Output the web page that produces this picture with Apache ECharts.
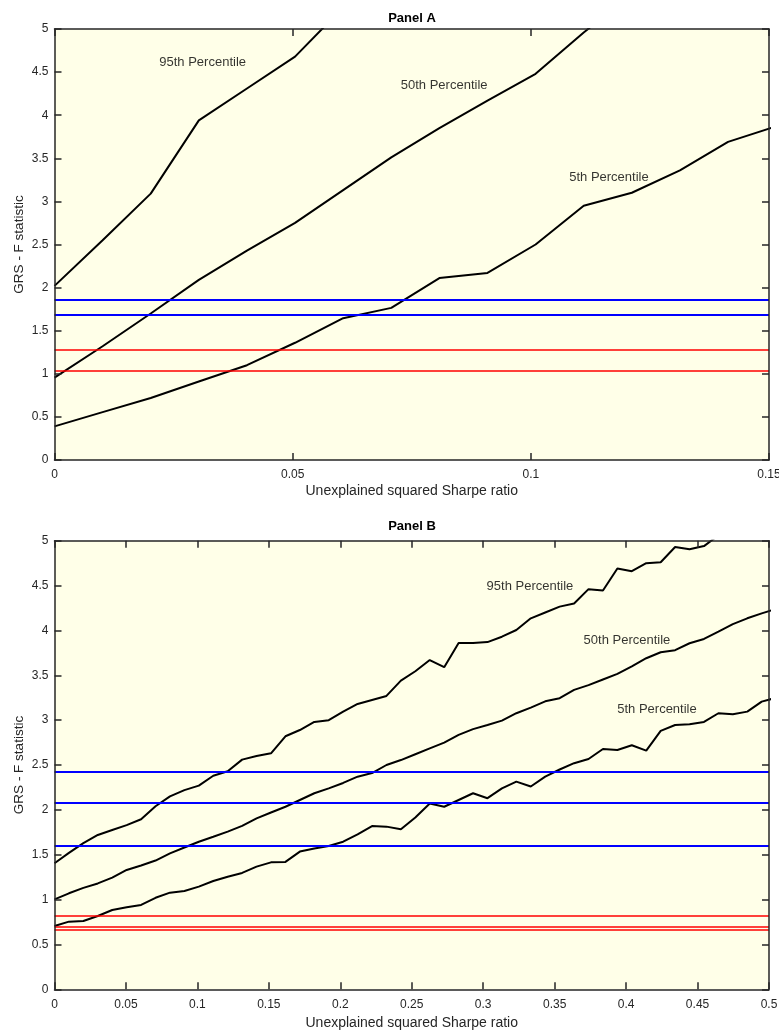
<!DOCTYPE html>
<html>
<head>
<meta charset="utf-8">
<script src="https://cdn.jsdelivr.net/npm/echarts@6/dist/echarts.min.js"></script>
<style>
html,body{margin:0;padding:0;background:#fff;}
#c{width:779px;height:1031px;}
</style>
</head>
<body>
<div id="c"></div>
<script>
// ---------- data ----------
const xGrid = [0, 0.0101, 0.0202, 0.0303, 0.0404, 0.0505, 0.0606, 0.0707, 0.0808, 0.0909,
  0.101, 0.1111, 0.1212, 0.1313, 0.1414, 0.1515, 0.1616, 0.1717, 0.1818, 0.1919,
  0.202, 0.2121, 0.2222, 0.2323, 0.2424, 0.2525, 0.2626, 0.2727, 0.2828, 0.2929,
  0.303, 0.3131, 0.3232, 0.3333, 0.3434, 0.3535, 0.3636, 0.3737, 0.3838, 0.3939,
  0.404, 0.4141, 0.4242, 0.4343, 0.4444, 0.4545, 0.4646, 0.4747, 0.4848, 0.4949, 0.5051];

// Panel A
const a95 = [2.02, 2.55, 3.09, 3.94, 4.31, 4.68, 5.25];
const a50 = [0.955, 1.32, 1.70, 2.09, 2.43, 2.75, 3.13, 3.51, 3.85, 4.17, 4.48, 4.96, 5.4];
const a5  = [0.39, 0.555, 0.72, 0.91, 1.10, 1.36, 1.645, 1.765, 2.11, 2.17, 2.50, 2.95, 3.10, 3.36, 3.69, 3.87];
const aBlue = [1.856, 1.68];
const aRed  = [1.276, 1.044];

// Panel B
const b95 = [1.405, 1.52, 1.63, 1.72, 1.776, 1.83, 1.895, 2.04, 2.15, 2.22,
  2.27, 2.38, 2.43, 2.56, 2.60, 2.63, 2.82, 2.89, 2.98, 3.00,
  3.095, 3.18, 3.225, 3.27, 3.44, 3.545, 3.67, 3.59, 3.86, 3.86,
  3.87, 3.93, 4.005, 4.135, 4.20, 4.265, 4.30, 4.46, 4.445, 4.69,
  4.66, 4.75, 4.76, 4.93, 4.905, 4.94, 5.06];
const b50 = [1.003, 1.07, 1.13, 1.18, 1.245, 1.33, 1.38, 1.435, 1.515, 1.58,
  1.645, 1.70, 1.757, 1.822, 1.905, 1.97, 2.035, 2.11, 2.185, 2.24,
  2.30, 2.37, 2.41, 2.50, 2.555, 2.62, 2.685, 2.75, 2.835, 2.90,
  2.945, 2.995, 3.077, 3.14, 3.21, 3.245, 3.337, 3.39, 3.453, 3.515,
  3.60, 3.69, 3.757, 3.78, 3.857, 3.905, 3.987, 4.07, 4.135, 4.19, 4.24];
const b5 = [0.705, 0.754, 0.761, 0.817, 0.884, 0.914, 0.94, 1.02, 1.077, 1.096,
  1.144, 1.207, 1.255, 1.297, 1.367, 1.415, 1.42, 1.535, 1.57, 1.597,
  1.645, 1.728, 1.82, 1.813, 1.784, 1.915, 2.07, 2.035, 2.11, 2.185,
  2.13, 2.24, 2.315, 2.26, 2.37, 2.45, 2.52, 2.567, 2.678, 2.668,
  2.72, 2.66, 2.88, 2.946, 2.954, 2.98, 3.077, 3.066, 3.095, 3.206, 3.25];
const bBlue = [2.419, 2.085, 1.598];
const bRed  = [0.817, 0.698, 0.664];

const seriesNames = ['95th Percentile', '50th Percentile', '5th Percentile'];
const panelTitles = ['Panel A', 'Panel B'];
const xName = 'Unexplained squared Sharpe ratio';
const yName = 'GRS - F statistic';
const xMaxA = 0.15, xMaxB = 0.5;
const xStep = 0.05, yMax = 5, yStep = 0.5;

// annotation anchors (data coordinates)
const labelAnchorA = [[0.0311, 4.617], [0.0818, 4.34], [0.1164, 3.275]];
const labelAnchorB = [[0.3327, 4.485], [0.4006, 3.894], [0.4216, 3.125]];

// ---------- chart ----------
const FONT = '"Liberation Sans", Arial, Helvetica, sans-serif';
const AX = '#262626';
const pairs = (vals) => vals.map((v, i) => [xGrid[i], v]);

function xAxisDef(gi, max, pos, gap) {
  const bottom = pos === 'bottom';
  return {
    type: 'value', gridIndex: gi, position: pos, min: 0, max: max, interval: xStep, z: 5,
    name: bottom ? xName : '', nameLocation: 'middle', nameGap: gap,
    nameTextStyle: {color: AX, fontSize: 14, fontFamily: FONT},
    axisLine: {show: true, onZero: false, lineStyle: {color: AX, width: 1.5}},
    axisTick: {show: true, inside: true, length: 7, lineStyle: {color: AX, width: 1.5}},
    axisLabel: {show: bottom, color: AX, fontSize: 12, fontFamily: FONT, margin: 9},
    splitLine: {show: false}
  };
}
function yAxisDef(gi, pos) {
  const left = pos === 'left';
  return {
    type: 'value', gridIndex: gi, position: pos, min: 0, max: yMax, interval: yStep, z: 5,
    name: left ? yName : '', nameLocation: 'middle', nameGap: 28, nameMoveOverlap: false,
    nameTextStyle: {color: AX, fontSize: 13.5, fontFamily: FONT},
    axisLine: {show: true, onZero: false, lineStyle: {color: AX, width: 1.5}},
    axisTick: {show: true, inside: true, length: 7, lineStyle: {color: AX, width: 1.5}},
    axisLabel: {show: left, color: AX, fontSize: 12, fontFamily: FONT, margin: 6},
    splitLine: {show: false}
  };
}
function blackLine(vals, xi, yi) {
  return {
    type: 'line', xAxisIndex: xi, yAxisIndex: yi, data: pairs(vals),
    showSymbol: false, symbol: 'none', silent: true, z: 2,
    lineStyle: {color: '#000', width: 2}
  };
}
function refLines(blue, red, xi, yi) {
  const d = blue.map(v => ({yAxis: v, lineStyle: {color: '#0000FF', width: 2}}))
    .concat(red.map(v => ({yAxis: v, lineStyle: {color: '#FF0000', width: 1.6}})));
  return {
    type: 'line', xAxisIndex: xi, yAxisIndex: yi, data: [], z: 3, silent: true,
    markLine: {symbol: ['none', 'none'], silent: true, animation: false,
      label: {show: false}, lineStyle: {type: 'solid'}, data: d}
  };
}
function labels(anchors, xi, yi) {
  return {
    type: 'scatter', xAxisIndex: xi, yAxisIndex: yi, symbolSize: 0, silent: true, z: 4,
    data: anchors.map((p, i) => ({value: [p[0], p[1]], name: seriesNames[i]})),
    label: {show: true, position: 'inside', formatter: p => p.name,
      color: '#000', fontSize: 13, fontFamily: FONT}
  };
}

const chart = echarts.init(document.getElementById('c'), null, {renderer: 'canvas'});
chart.setOption({
  animation: false,
  backgroundColor: '#ffffff',
  title: panelTitles.map((t, i) => ({
    text: t, left: 412, top: i === 0 ? 12 : 520, textAlign: 'center', padding: 0,
    textStyle: {fontSize: 13, fontWeight: 'bold', color: '#000', fontFamily: FONT}
  })),
  grid: [
    {left: 54.5, right: 10, top: 29, height: 431, show: true, backgroundColor: '#FFFFE8',
     borderWidth: 0, containLabel: false, outerBoundsMode: 'none'},
    {left: 54.5, right: 10, top: 540.7, height: 448.6, show: true, backgroundColor: '#FFFFE8',
     borderWidth: 0, containLabel: false, outerBoundsMode: 'none'}
  ],
  xAxis: [xAxisDef(0, xMaxA, 'bottom', 24), xAxisDef(0, xMaxA, 'top', 24),
          xAxisDef(1, xMaxB, 'bottom', 27), xAxisDef(1, xMaxB, 'top', 27)],
  yAxis: [yAxisDef(0, 'left'), yAxisDef(0, 'right'),
          yAxisDef(1, 'left'), yAxisDef(1, 'right')],
  series: [
    blackLine(a95, 0, 0), blackLine(a50, 0, 0), blackLine(a5, 0, 0),
    refLines(aBlue, aRed, 0, 0), labels(labelAnchorA, 0, 0),
    blackLine(b95, 2, 2), blackLine(b50, 2, 2), blackLine(b5, 2, 2),
    refLines(bBlue, bRed, 2, 2), labels(labelAnchorB, 2, 2)
  ]
});
</script>
</body>
</html>
